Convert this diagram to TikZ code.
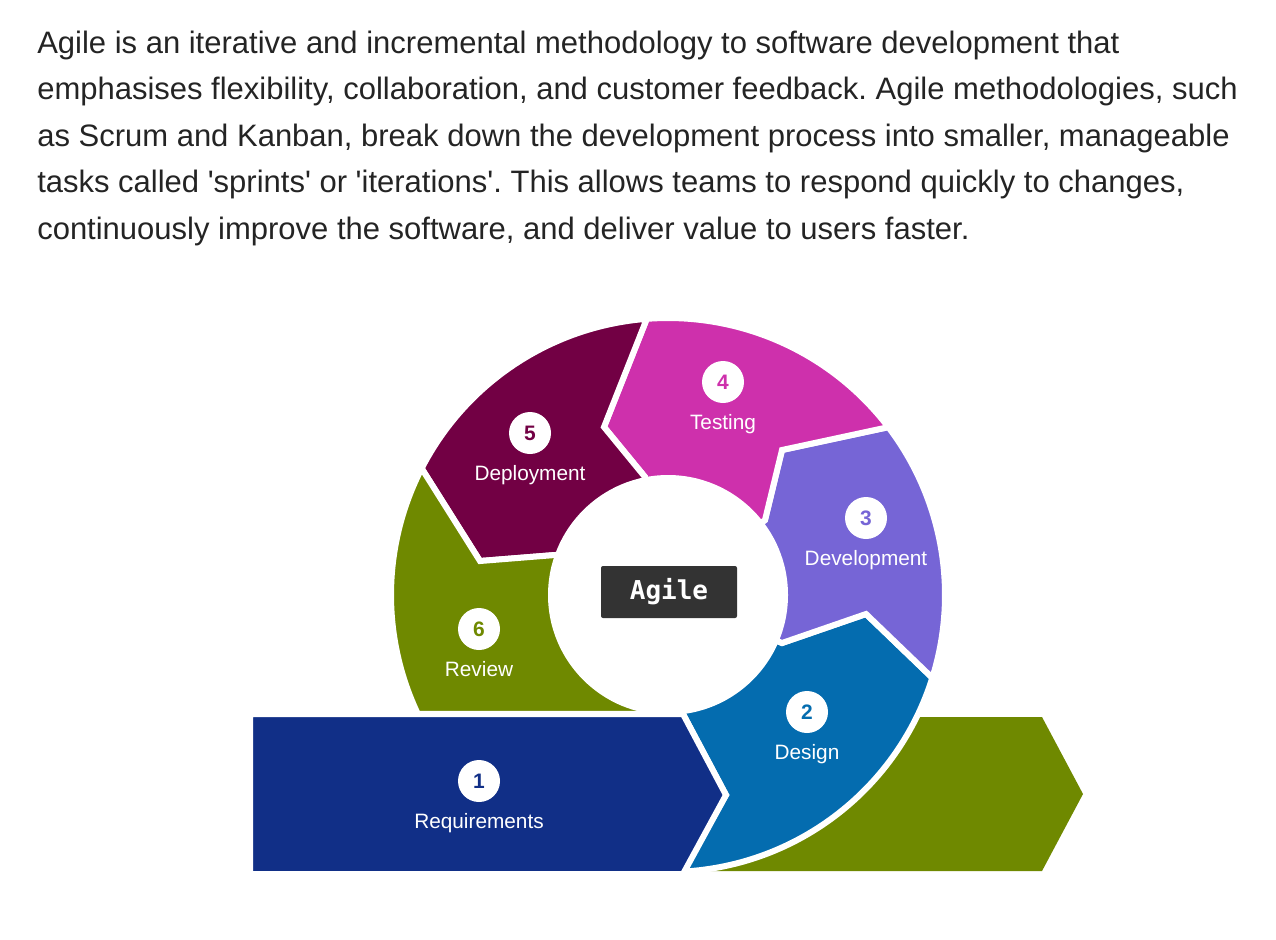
\documentclass[tikz,border=0pt]{standalone}
\usepackage{fontspec}
\setmainfont{Liberation Sans}
\setmonofont{DejaVu Sans Mono}
\usetikzlibrary{positioning}
\frenchspacing

\definecolor{bodytext}{RGB}{36,36,36}
\definecolor{reqblue}{RGB}{17,47,135}
\definecolor{desblue}{RGB}{4,108,175}
\definecolor{devpurple}{RGB}{118,101,214}
\definecolor{testpink}{RGB}{206,48,172}
\definecolor{deploymaroon}{RGB}{114,0,68}
\definecolor{reviewgreen}{RGB}{111,137,0}
\definecolor{agilegray}{RGB}{51,51,51}

\tikzset{
  para/.style={anchor=base west, inner sep=0pt, text=bodytext, font=\fontsize{23.25}{28}\selectfont},
  stage/.style={draw=white, line width=4.5pt},
  badge/.style={circle, fill=white, minimum size=31.5pt, inner sep=0pt, font=\fontsize{15.7}{18}\selectfont\bfseries},
  lbl/.style={inner sep=0pt, text=white, font=\fontsize{15.6}{18}\selectfont}
}

\begin{document}
\begin{tikzpicture}[x=0.75pt, y=-0.75pt]
\useasboundingbox (0,0) rectangle (1276,939);

% intro text
\node[para] (line1) at (37,53.3) {Agile is an iterative and incremental methodology to software development that};
\node[para] (line2) at (37,99.8) {emphasises flexibility, collaboration, and customer feedback. Agile methodologies, such};
\node[para] (line3) at (37,146.3) {as Scrum and Kanban, break down the development process into smaller, manageable};
\node[para] (line4) at (37,192.8) {tasks called \textquotesingle sprints\textquotesingle\ or \textquotesingle iterations\textquotesingle. This allows teams to respond quickly to changes,};
\node[para] (line5) at (37,239.3) {continuously improve the software, and deliver value to users faster.};

% outgoing arrow, behind the ring
\fill[reviewgreen] (700,717) -- (1042,717) -- (1083,794) -- (1042,871) -- (700,871) -- cycle;

% the ring
\begin{scope}[shift={(668,595)}]
  \filldraw[stage, fill=desblue] (0,0) -- (15,119) -- (58,200) -- (86.9:277) arc[start angle=86.9, end angle=17.4, radius=277] -- (198,19) -- (114,48) -- cycle;
  \filldraw[stage, fill=devpurple] (0,0) -- (114,48) -- (198,19) -- (17.4:277) arc[start angle=17.4, end angle=-37.3, radius=277] -- (114,-145) -- (97,-75) -- cycle;
  \filldraw[stage, fill=testpink] (0,0) -- (97,-75) -- (114,-145) -- (-37.3:277) arc[start angle=-37.3, end angle=-94.4, radius=277] -- (-64,-168) -- (-23,-118) -- cycle;
  \filldraw[stage, fill=deploymaroon] (0,0) -- (-23,-118) -- (-64,-168) -- (-94.4:277) arc[start angle=-94.4, end angle=-152.8, radius=277] -- (-188,-34) -- (-113,-40) -- cycle;
  \filldraw[stage, fill=reviewgreen] (0,0) -- (-113,-40) -- (-188,-34) -- (-152.8:277) arc[start angle=-152.8, end angle=-205.4, radius=277] -- (0,119) -- cycle;
  \fill[white] (0,0) circle[radius=120];
\end{scope}

% incoming arrow
\filldraw[stage, fill=reqblue] (250,714) -- (683,714) -- (726,795) -- (683,874) -- (250,874) -- cycle;

\node[fill=agilegray, rounded corners=1.5pt, minimum width=102pt, minimum height=39pt, text=white, font=\ttfamily\bfseries\fontsize{19.5}{21}\selectfont] (agile) at (669,592) {Agile};

% steps
\node[badge, text=reqblue] (badge1) at (479,781) {1};
\node[lbl, below=19.5pt of badge1, anchor=base] (req) {Requirements};
\node[badge, text=desblue] (badge2) at (807,712) {2};
\node[lbl, below=19.5pt of badge2, anchor=base] (design) {Design};
\node[badge, text=devpurple] (badge3) at (866,518) {3};
\node[lbl, below=19.5pt of badge3, anchor=base] (dev) {Development};
\node[badge, text=testpink] (badge4) at (723,382) {4};
\node[lbl, below=19.5pt of badge4, anchor=base] (test) {Testing};
\node[badge, text=deploymaroon] (badge5) at (530,433) {5};
\node[lbl, below=19.5pt of badge5, anchor=base] (deploy) {Deployment};
\node[badge, text=reviewgreen] (badge6) at (479,629) {6};
\node[lbl, below=19.5pt of badge6, anchor=base] (review) {Review};
\end{tikzpicture}
\end{document}
